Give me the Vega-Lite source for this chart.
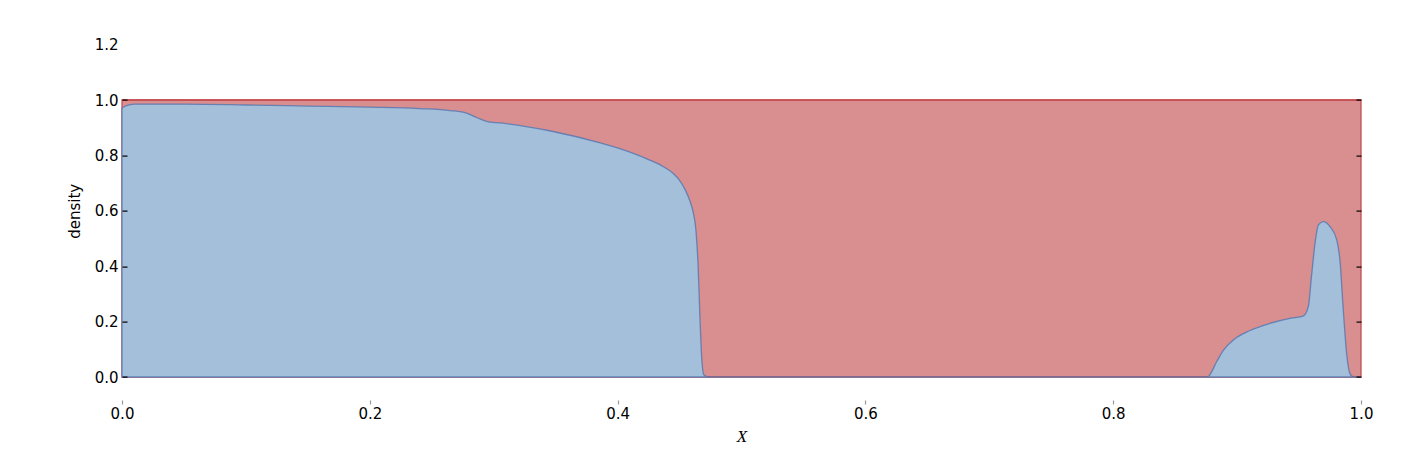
{
  "$schema": "https://vega.github.io/schema/vega-lite/v6.json",
  "width": 1239,
  "height": 332.4,
  "autosize": {"type": "none"},
  "padding": {"left": 122, "top": 44.6, "right": 43, "bottom": 73},
  "background": "white",
  "config": {
    "view": {"stroke": null},
    "axis": {
      "labelFont": "DejaVu Sans",
      "labelFontSize": 15,
      "labelColor": "#000000",
      "domain": false,
      "grid": false,
      "ticks": true,
      "tickWidth": 1.2,
      "titleFont": "DejaVu Sans",
      "titleFontSize": 15,
      "titleFontWeight": "normal",
      "titleColor": "#000000"
    }
  },
  "datasets": {
    "frame": [{"x": 0, "top": 1}, {"x": 1, "top": 1}],
    "density": [
      {"x": 0.0, "d": 0.970},
      {"x": 0.003, "d": 0.979},
      {"x": 0.010, "d": 0.985},
      {"x": 0.05, "d": 0.985},
      {"x": 0.10, "d": 0.982},
      {"x": 0.15, "d": 0.978},
      {"x": 0.20, "d": 0.974},
      {"x": 0.24, "d": 0.969},
      {"x": 0.265, "d": 0.962},
      {"x": 0.278, "d": 0.953},
      {"x": 0.287, "d": 0.935},
      {"x": 0.295, "d": 0.922},
      {"x": 0.31, "d": 0.915},
      {"x": 0.345, "d": 0.889},
      {"x": 0.386, "d": 0.845},
      {"x": 0.41, "d": 0.812},
      {"x": 0.425, "d": 0.785},
      {"x": 0.437, "d": 0.759},
      {"x": 0.445, "d": 0.735},
      {"x": 0.450, "d": 0.710},
      {"x": 0.455, "d": 0.672},
      {"x": 0.458, "d": 0.640},
      {"x": 0.461, "d": 0.595},
      {"x": 0.463, "d": 0.54},
      {"x": 0.465, "d": 0.40},
      {"x": 0.4665, "d": 0.21},
      {"x": 0.468, "d": 0.06},
      {"x": 0.4697, "d": 0.007},
      {"x": 0.473, "d": 0.0},
      {"x": 0.60, "d": 0.0},
      {"x": 0.75, "d": 0.0},
      {"x": 0.876, "d": 0.0},
      {"x": 0.8835, "d": 0.055},
      {"x": 0.889, "d": 0.097},
      {"x": 0.897, "d": 0.134},
      {"x": 0.910, "d": 0.167},
      {"x": 0.9266, "d": 0.194},
      {"x": 0.9427, "d": 0.212},
      {"x": 0.9534, "d": 0.220},
      {"x": 0.9575, "d": 0.254},
      {"x": 0.960, "d": 0.362},
      {"x": 0.9629, "d": 0.483},
      {"x": 0.9656, "d": 0.549},
      {"x": 0.9696, "d": 0.561},
      {"x": 0.975, "d": 0.543},
      {"x": 0.9804, "d": 0.495},
      {"x": 0.983, "d": 0.422},
      {"x": 0.9857, "d": 0.242},
      {"x": 0.9884, "d": 0.085},
      {"x": 0.991, "d": 0.013},
      {"x": 0.9938, "d": 0.0},
      {"x": 1.0, "d": 0.0}
    ]
  },
  "layer": [
    {
      "data": {"name": "frame"},
      "mark": {"type": "area", "fill": "#d98f8f", "stroke": "#c44e52", "strokeWidth": 1.3},
      "encoding": {
        "x": {
          "field": "x", "type": "quantitative",
          "scale": {"domain": [0, 1], "nice": false, "zero": false},
          "axis": {
            "values": [0, 0.2, 0.4, 0.6, 0.8, 1.0],
            "format": ".1f",
            "ticks": true,
            "tickColor": "#999999",
            "tickSize": 4,
            "offset": 23,
            "labelPadding": 2,
            "labelFlush": false,
            "zindex": 1,
            "title": "X",
            "titleFont": "Liberation Serif",
            "titleFontStyle": "italic",
            "titleFontSize": 17,
            "titlePadding": 7
          }
        },
        "y": {
          "field": "top", "type": "quantitative",
          "scale": {"domain": [0, 1.2], "nice": false, "zero": false},
          "axis": {
            "orient": "left",
            "offset": -5,
            "values": [0, 0.2, 0.4, 0.6, 0.8, 1.0, 1.2],
            "format": ".1f",
            "ticks": true,
            "tickColor": "#000000",
            "tickSize": 5,
            "tickOpacity": {"condition": {"test": "datum.value > 1.1", "value": 0}, "value": 1},
            "labelPadding": 4,
            "zindex": 1,
            "title": "density",
            "titlePadding": 12
          }
        }
      }
    },
    {
      "data": {"name": "density"},
      "mark": {"type": "area", "fill": "#a3bfd9", "stroke": "#4c72b0", "strokeOpacity": 0.75, "strokeWidth": 1.3, "interpolate": "monotone"},
      "encoding": {
        "x": {
          "field": "x", "type": "quantitative",
          "scale": {"domain": [0, 1], "nice": false, "zero": false},
          "axis": {
            "values": [0, 0.2, 0.4, 0.6, 0.8, 1.0],
            "format": ".1f",
            "ticks": true,
            "tickColor": "#999999",
            "tickSize": 4,
            "offset": 23,
            "labelPadding": 2,
            "labelFlush": false,
            "zindex": 1,
            "title": "X",
            "titleFont": "Liberation Serif",
            "titleFontStyle": "italic",
            "titleFontSize": 17,
            "titlePadding": 7
          }
        },
        "y": {
          "field": "d", "type": "quantitative",
          "scale": {"domain": [0, 1.2], "nice": false, "zero": false},
          "axis": null
        }
      }
    },
    {
      "data": {"name": "frame"},
      "mark": {"type": "line", "stroke": "#c44e52", "strokeWidth": 1.3},
      "encoding": {
        "x": {
          "field": "x", "type": "quantitative",
          "scale": {"domain": [0, 1], "nice": false, "zero": false},
          "axis": {
            "values": [0, 0.2, 0.4, 0.6, 0.8, 1.0],
            "format": ".1f",
            "ticks": true,
            "tickColor": "#999999",
            "tickSize": 4,
            "offset": 23,
            "labelPadding": 2,
            "labelFlush": false,
            "zindex": 1,
            "title": "X",
            "titleFont": "Liberation Serif",
            "titleFontStyle": "italic",
            "titleFontSize": 17,
            "titlePadding": 7
          }
        },
        "y": {
          "field": "top", "type": "quantitative",
          "scale": {"domain": [0, 1.2], "nice": false, "zero": false},
          "axis": {
            "orient": "left",
            "offset": -1239,
            "values": [0, 0.2, 0.4, 0.6, 0.8, 1.0],
            "labels": false,
            "ticks": true,
            "tickColor": "#000000",
            "tickSize": 5,
            "zindex": 1,
            "title": null
          }
        }
      }
    }
  ],
  "resolve": {"axis": {"y": "independent"}}
}
